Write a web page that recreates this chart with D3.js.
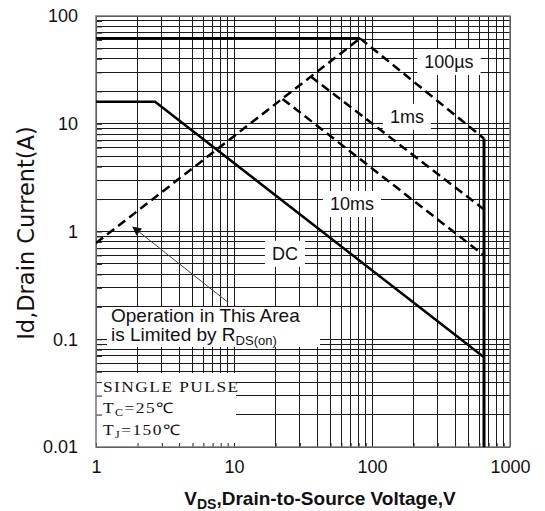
<!DOCTYPE html>
<html>
<head>
<meta charset="utf-8">
<script src="https://cdn.jsdelivr.net/npm/d3@7"></script>
<style>
body { margin: 0; background: #fff; }
svg { display: block; font-family: "Liberation Sans", Arial, sans-serif; }
</style>
</head>
<body>
<svg></svg>
<script>
// safe operating area (V, A)
const xTicks = [1, 10, 100, 1000]
const yTicks = [0.01, 0.1, 1, 10, 100]
const yTickLabels = ['0.01', '0.1', '1', '10', '100']

const limitV = [1, 82]
const limitI = [62, 62]
const rdsV = [1, 82]
const rdsI = [0.78, 62]
const us100V = [82, 648]
const us100I = [62, 7.3]
const ms1V = [36, 648]
const ms1I = [27.5, 1.6]
const ms10V = [22.5, 648]
const ms10I = [17, 0.6]
const dcV = [1, 2.68, 648]
const dcI = [16, 16, 0.068]
const bvV = [648, 648]
const bvI = [7.3, 0.01]

const curveLabels = ['100µs', '1ms', '10ms', 'DC']
const labelV = [361, 179, 71.6, 23.4]
const labelI = [37.4, 11.6, 1.8, 0.62]

const noteLines = ['SINGLE PULSE', 'T', 'T']

const w = 545
const h = 511
const padL = 96
const padR = 510
const padT = 16
const padB = 447

let svg = d3.select('svg').attr('width', w).attr('height', h)

let xScale = d3.scaleLog().domain([1, 1000]).range([padL, padR])
let yScale = d3.scaleLog().domain([0.01, 100]).range([padB, padT])

let drawGrid = () => {
    let g = svg.append('g').attr('stroke', '#1a1a1a').attr('stroke-width', 1).attr('shape-rendering', 'crispEdges')
    g.selectAll('.vx')
    .data(xScale.ticks())
    .join('line')
    .attr('class', 'vx')
    .attr('x1', d => xScale(d)).attr('x2', d => xScale(d))
    .attr('y1', padT).attr('y2', padB)
    g.selectAll('.hy')
    .data(yScale.ticks())
    .join('line')
    .attr('class', 'hy')
    .attr('y1', d => yScale(d)).attr('y2', d => yScale(d))
    .attr('x1', padL).attr('x2', padR)
}

let drawBoxes = () => {
    // white panels that hide the grid behind the notes
    svg.append('rect').attr('x', padL).attr('y', 373).attr('width', 140).attr('height', padB - 373).attr('fill', '#fff')
    svg.append('rect').attr('x', 107).attr('y', 307).attr('width', 213).attr('height', 40).attr('fill', '#fff')
}

let drawTicks = () => {
    let yAxis = d3.axisLeft(yScale).tickSize(-6).tickFormat('')
    svg.append('g')
    .attr('transform', 'translate(' + padL + ',0)')
    .call(yAxis)
    .call(g => g.select('.domain').remove())
    .selectAll('line').attr('stroke', '#222')

    let xAxis = d3.axisBottom(xScale).tickSize(-4).tickFormat('')
    svg.append('g')
    .attr('transform', 'translate(0,' + padB + ')')
    .call(xAxis)
    .call(g => g.select('.domain').remove())
    .selectAll('line').attr('stroke', '#222')

    svg.append('rect')
    .attr('x', padL).attr('y', padT)
    .attr('width', padR - padL).attr('height', padB - padT)
    .attr('fill', 'none').attr('stroke', '#777').attr('stroke-width', 1.5)

    let yLab = d3.axisLeft(yScale).tickValues(yTicks).tickSize(0).tickPadding(18)
    .tickFormat((d, i) => yTickLabels[i])
    svg.append('g')
    .attr('transform', 'translate(' + padL + ',0)')
    .call(yLab)
    .call(g => g.select('.domain').remove())
    .selectAll('text').attr('font-size', 18).attr('font-family', '"Liberation Sans", Arial').attr('fill', '#111')

    let xLab = d3.axisBottom(xScale).tickValues(xTicks).tickSize(0).tickPadding(13)
    .tickFormat(d3.format('d'))
    svg.append('g')
    .attr('transform', 'translate(0,' + padB + ')')
    .call(xLab)
    .call(g => g.select('.domain').remove())
    .selectAll('text').attr('font-size', 18).attr('font-family', '"Liberation Sans", Arial').attr('fill', '#111')
}

let drawCurves = () => {
    svg.append('clipPath').attr('id', 'plot')
    .append('rect').attr('x', padL).attr('y', padT).attr('width', padR - padL).attr('height', padB - padT)

    let line = d3.line().x(d => xScale(d[0])).y(d => yScale(d[1]))
    let curves = [
        [limitV, limitI, null],
        [rdsV, rdsI, '9,5'],
        [us100V, us100I, '9,5'],
        [ms1V, ms1I, '9,5'],
        [ms10V, ms10I, '9,5'],
        [dcV, dcI, null],
        [bvV, bvI, null]
    ]
    let g = svg.append('g').attr('clip-path', 'url(#plot)')
    g.selectAll('path')
    .data(curves)
    .join('path')
    .attr('d', d => line(d3.zip(d[0], d[1])))
    .attr('fill', 'none')
    .attr('stroke', '#000')
    .attr('stroke-width', (d, i) => i == 6 ? 3 : 2.5)
    .attr('stroke-dasharray', d => d[2])
}

let drawLabels = () => {
    curveLabels.forEach((t, i) => {
        let g = svg.append('g')
        let txt = g.append('text')
        .attr('x', xScale(labelV[i]))
        .attr('y', yScale(labelI[i]))
        .attr('text-anchor', 'middle')
        .attr('dominant-baseline', 'central')
        .attr('font-size', 18)
        .attr('fill', '#111')
        .text(t)
        let b = txt.node().getBBox()
        g.insert('rect', 'text')
        .attr('x', b.x - 7).attr('y', b.y - 3)
        .attr('width', b.width + 14).attr('height', b.height + 6)
        .attr('fill', '#fff')
    })

    // R_DS(on) note and arrow
    svg.append('text').attr('font-size', 19).attr('fill', '#111')
    .attr('x', 111).attr('y', 322).text('Operation in This Area')
    let l2 = svg.append('text').attr('font-size', 19).attr('fill', '#111').attr('x', 111).attr('y', 341)
    l2.append('tspan').text('is Limited by R')
    l2.append('tspan').attr('font-size', 13).attr('dy', 4).text('DS(on)')

    svg.append('defs').append('marker')
    .attr('id', 'arrow').attr('viewBox', '0 0 10 10')
    .attr('refX', 9).attr('refY', 5)
    .attr('markerWidth', 11).attr('markerHeight', 9)
    .attr('markerUnits', 'userSpaceOnUse')
    .attr('orient', 'auto')
    .append('path').attr('d', 'M0,0L10,5L0,10z').attr('fill', '#111')

    svg.append('line')
    .attr('x1', xScale(9.05)).attr('y1', yScale(0.22))
    .attr('x2', xScale(1.85)).attr('y2', yScale(1.1))
    .attr('stroke', '#444').attr('stroke-width', 1)
    .attr('marker-end', 'url(#arrow)')

    // test conditions, the print is stretched sideways
    let serif = '"Liberation Serif", "Times New Roman", serif'
    let cond = (y) => svg.append('text')
    .attr('transform', 'translate(103,' + y + ') scale(1.2,1)')
    .attr('font-family', serif).attr('font-size', 14.5).attr('fill', '#111')
    .attr('letter-spacing', 1.2)

    cond(392).text(noteLines[0])
    let tc = cond(413)
    tc.append('tspan').text(noteLines[1])
    tc.append('tspan').attr('font-size', 10).attr('dy', 3).text('C')
    tc.append('tspan').attr('dy', -3).text('=25℃')
    let tj = cond(435)
    tj.append('tspan').text(noteLines[2])
    tj.append('tspan').attr('font-size', 10).attr('dy', 3).text('J')
    tj.append('tspan').attr('dy', -3).text('=150℃')
}

let drawTitles = () => {
    svg.append('text')
    .attr('transform', 'translate(26,233) rotate(-90)')
    .attr('text-anchor', 'middle')
    .attr('dominant-baseline', 'central')
    .attr('font-family', '"DejaVu Sans", Verdana, sans-serif')
    .attr('font-size', 22.5)
    .attr('fill', '#111')
    .text('Id,Drain Current(A)')

    let xt = svg.append('text')
    .attr('x', 320).attr('y', 505)
    .attr('text-anchor', 'middle')
    .attr('font-size', 19).attr('font-weight', 'bold').attr('fill', '#111')
    xt.append('tspan').text('V')
    xt.append('tspan').attr('font-size', 14).attr('dy', 4).text('DS')
    xt.append('tspan').attr('dy', -4).text(',Drain-to-Source Voltage,V')
}

drawGrid()
drawBoxes()
drawTicks()
drawCurves()
drawLabels()
drawTitles()
</script>
</body>
</html>
